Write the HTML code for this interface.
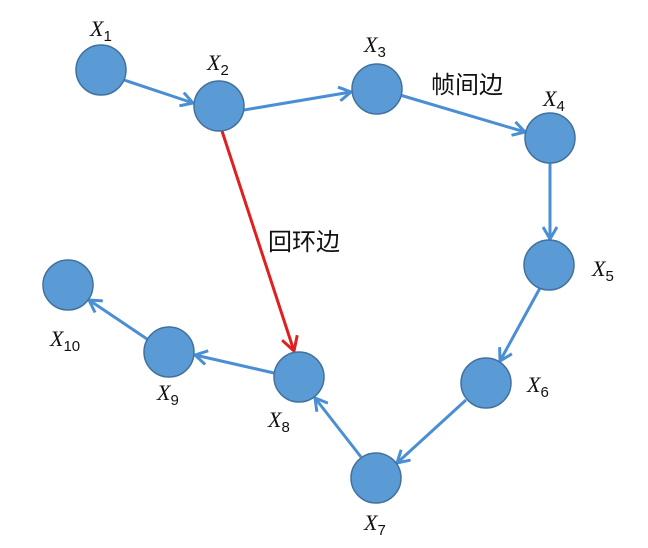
<!DOCTYPE html>
<html><head><meta charset="utf-8"><style>
html,body{margin:0;padding:0;background:#fff;}
svg{display:block}
.n{fill:#5b9bd5;stroke:#41719c;stroke-width:1.5}
.e{stroke:#4a8fd4;stroke-width:3;fill:none}
.lab{font-family:"Liberation Serif",serif;font-style:italic;font-size:22px;fill:#111}
.sub{font-family:"Liberation Sans",sans-serif;font-style:normal;font-size:15px;fill:#111}
.cn{font-family:"Liberation Sans","Noto Sans CJK SC",sans-serif;font-size:24px;fill:#111}
</style></head><body>
<svg width="648" height="548" viewBox="0 0 648 548" xmlns="http://www.w3.org/2000/svg">
<defs>
<marker id="b" markerWidth="16" markerHeight="16" refX="13" refY="8" orient="auto" markerUnits="userSpaceOnUse">
<polyline points="1,1 13,8 1,15" fill="none" stroke="#4a8fd4" stroke-width="3"/></marker>
<marker id="r" markerWidth="18" markerHeight="18" refX="15" refY="9" orient="auto" markerUnits="userSpaceOnUse">
<polyline points="1,1 15,9 1,17" fill="none" stroke="#e02020" stroke-width="3"/></marker>
</defs>
<line class="e" x1="124" y1="80" x2="193" y2="103" marker-end="url(#b)"/>
<line class="e" x1="244" y1="110" x2="351" y2="92" marker-end="url(#b)"/>
<line class="e" x1="400" y1="95" x2="525" y2="132" marker-end="url(#b)"/>
<line class="e" x1="550" y1="163" x2="550" y2="239" marker-end="url(#b)"/>
<line class="e" x1="540" y1="288" x2="500" y2="361" marker-end="url(#b)"/>
<line class="e" x1="466" y1="400" x2="397" y2="463" marker-end="url(#b)"/>
<line class="e" x1="361" y1="457" x2="315" y2="398" marker-end="url(#b)"/>
<line class="e" x1="274" y1="373" x2="195" y2="355" marker-end="url(#b)"/>
<line class="e" x1="147" y1="339" x2="89" y2="300" marker-end="url(#b)"/>
<line x1="222" y1="131" x2="294" y2="351" stroke="#e02020" stroke-width="3" marker-end="url(#r)"/>
<circle class="n" cx="101" cy="70" r="25"/>
<circle class="n" cx="219" cy="106" r="25"/>
<circle class="n" cx="377" cy="89" r="25"/>
<circle class="n" cx="550" cy="138" r="25"/>
<circle class="n" cx="549" cy="265" r="25"/>
<circle class="n" cx="486" cy="383" r="25"/>
<circle class="n" cx="376" cy="478" r="25"/>
<circle class="n" cx="299" cy="377" r="25"/>
<circle class="n" cx="169" cy="352" r="25"/>
<circle class="n" cx="68" cy="285" r="25"/>
<text class="lab" x="90" y="36">X<tspan class="sub" dy="5">1</tspan></text>
<text class="lab" x="207" y="70">X<tspan class="sub" dy="5">2</tspan></text>
<text class="lab" x="364" y="52">X<tspan class="sub" dy="5">3</tspan></text>
<text class="lab" x="543" y="106">X<tspan class="sub" dy="5">4</tspan></text>
<text class="lab" x="592" y="276">X<tspan class="sub" dy="5">5</tspan></text>
<text class="lab" x="527" y="392">X<tspan class="sub" dy="5">6</tspan></text>
<text class="lab" x="364" y="530">X<tspan class="sub" dy="5">7</tspan></text>
<text class="lab" x="268" y="427">X<tspan class="sub" dy="5">8</tspan></text>
<text class="lab" x="157" y="400">X<tspan class="sub" dy="5">9</tspan></text>
<text class="lab" x="50" y="346">X<tspan class="sub" dy="5">10</tspan></text>
<text class="cn" x="431" y="93">帧间边</text>
<text class="cn" x="268" y="250">回环边</text>
</svg>
</body></html>
